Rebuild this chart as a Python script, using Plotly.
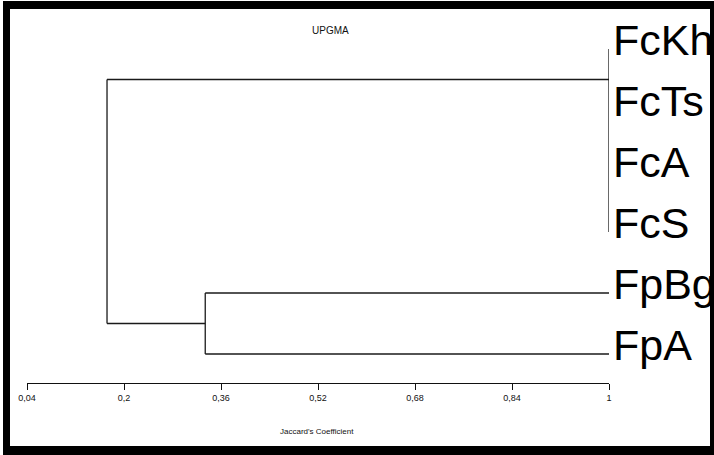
import plotly.graph_objects as go

# ---- data ----
leaves = ["FcKh", "FcTs", "FcA", "FcS", "FpBg", "FpA"]
node_names = ["Fc", "Fp", "root"]
node_children = [["FcKh", "FcTs", "FcA", "FcS"], ["FpBg", "FpA"], ["Fc", "Fp"]]
node_similarity = [1.0, 0.334, 0.172]
tick_values = [0.04, 0.2, 0.36, 0.52, 0.68, 0.84, 1.0]
tick_labels = ["0,04", "0,2", "0,36", "0,52", "0,68", "0,84", "1"]
title_text = "UPGMA"
axis_title = "Jaccard's Coefficient"

W, H = 714, 455
ML, MR, MT, MB = 27, 105, 20, 72
PW, PH = W - ML - MR, H - MT - MB

# positions of leaves / nodes
pos_x = {name: 1.0 for name in leaves}
pos_y = {name: float(i) for i, name in enumerate(leaves)}
for name, kids, sim in zip(node_names, node_children, node_similarity):
    pos_x[name] = sim
    pos_y[name] = (pos_y[kids[0]] + pos_y[kids[1]]) / 2

xs, ys = [], []
for name, kids in zip(node_names, node_children):
    nx = pos_x[name]
    ky = [pos_y[k] for k in kids]
    xs += [nx, nx, None]
    ys += [min(ky), max(ky), None]
    for k in kids:
        if pos_x[k] != nx:
            xs += [nx, pos_x[k], None]
            ys += [pos_y[k], pos_y[k], None]

fig = go.Figure()
fig.add_trace(go.Scatter(x=xs, y=ys, mode="lines", cliponaxis=False,
                         line=dict(color="#1a1a1a", width=1.3),
                         hoverinfo="skip", showlegend=False))

font_small = "Liberation Sans Narrow, Arial Narrow, Liberation Sans, Arial"
font_main = "Liberation Sans, Arial"

annotations = []
for name in leaves:
    annotations.append(dict(x=1.0, y=pos_y[name], xref="x", yref="y", text=name,
                            showarrow=False, xanchor="left", yanchor="middle",
                            xshift=2, yshift=9,
                            font=dict(family=font_main, size=43, color="black")))
annotations.append(dict(x=(330 - ML) / PW, y=(H - MB - 30.5) / PH, xref="paper", yref="paper",
                        text=title_text, showarrow=False, xanchor="center", yanchor="middle",
                        font=dict(family=font_main, size=10, color="#111")))
annotations.append(dict(x=(317 - ML) / PW, y=(H - MB - 431) / PH, xref="paper", yref="paper",
                        text=axis_title, showarrow=False, xanchor="center", yanchor="middle",
                        font=dict(family=font_small, size=8, color="#111")))
fig.update_layout(annotations=annotations)

def px_rect(x0, y0, x1, y1):
    return dict(type="rect", xref="paper", yref="paper",
                x0=(x0 - ML) / PW, x1=(x1 - ML) / PW,
                y0=(H - MB - y0) / PH, y1=(H - MB - y1) / PH,
                fillcolor="black", line=dict(width=0), layer="above")

shapes = [
    px_rect(3, 1, 714, 9),      # top
    px_rect(3, 1, 10, 455),     # left
    px_rect(710, 1, 714, 455),  # right
    px_rect(3, 446, 714, 455),  # bottom
]
fig.update_layout(shapes=shapes)

fig.update_layout(
    width=W, height=H,
    margin=dict(l=ML, r=MR, t=MT, b=MB, pad=0),
    plot_bgcolor="white", paper_bgcolor="white",
    xaxis=dict(range=[0.04, 1.0], tickvals=tick_values, ticktext=tick_labels,
               showgrid=False, zeroline=False, showline=True, linecolor="#111",
               linewidth=1.3, ticks="outside", ticklen=6, tickcolor="#111", tickwidth=1.3,
               tickfont=dict(family=font_small, size=9, color="#111"), fixedrange=True),
    yaxis=dict(range=[5.475, -0.475], visible=False, fixedrange=True),
)

fig.write_html("out.html", config={"displayModeBar": False},
               post_script="document.body.style.margin='0px';document.body.style.overflow='hidden';")
